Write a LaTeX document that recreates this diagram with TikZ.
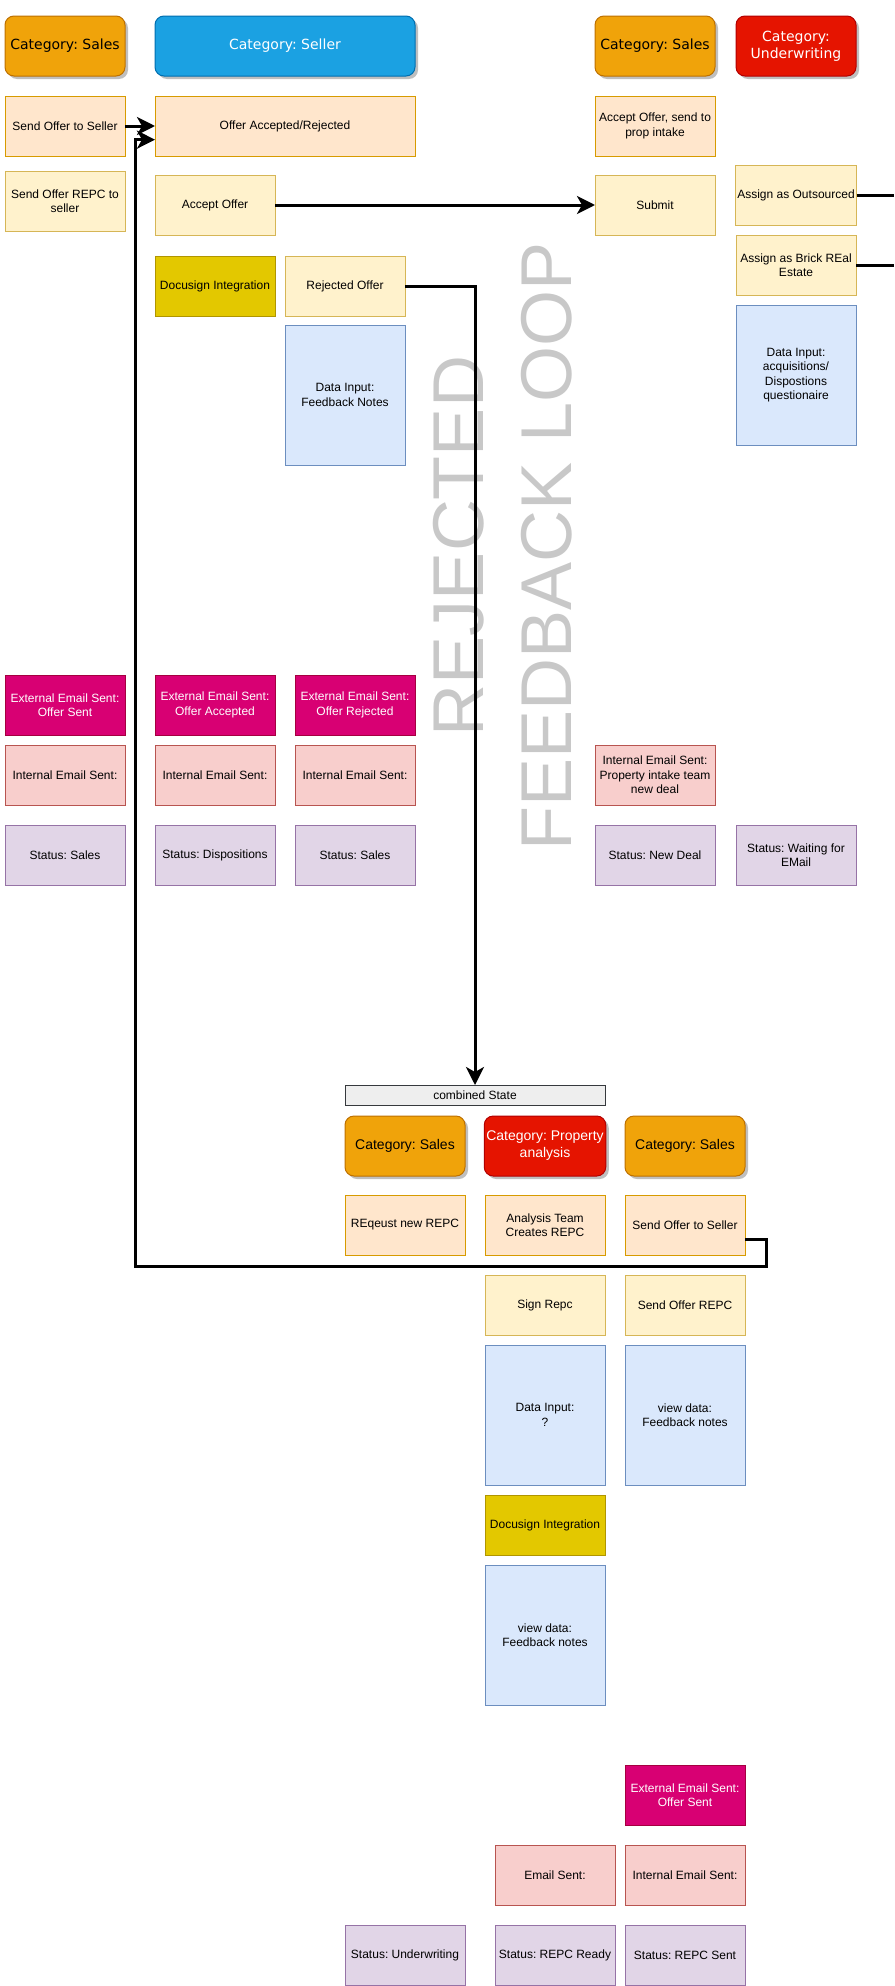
\documentclass[tikz,border=0pt]{standalone}
\usepackage{fontspec}
\setmainfont{Liberation Sans}
\newfontfamily\catfont{DejaVu Sans}
\usetikzlibrary{arrows.meta,shadows}
\frenchspacing

\definecolor{orangefill}{HTML}{F0A30A}
\definecolor{orangeline}{HTML}{BD7000}
\definecolor{bluefill}{HTML}{1BA1E2}
\definecolor{blueline}{HTML}{006EAF}
\definecolor{redfill}{HTML}{E51400}
\definecolor{redline}{HTML}{B20000}
\definecolor{peachfill}{HTML}{FFE6CC}
\definecolor{peachline}{HTML}{D79B00}
\definecolor{palefill}{HTML}{FFF2CC}
\definecolor{paleline}{HTML}{D6B656}
\definecolor{docufill}{HTML}{E3C800}
\definecolor{doculine}{HTML}{B09500}
\definecolor{datafill}{HTML}{DAE8FC}
\definecolor{dataline}{HTML}{6C8EBF}
\definecolor{extfill}{HTML}{D80073}
\definecolor{extline}{HTML}{A50040}
\definecolor{intfill}{HTML}{F8CECC}
\definecolor{intline}{HTML}{B85450}
\definecolor{statfill}{HTML}{E1D5E7}
\definecolor{statline}{HTML}{9673A6}
\definecolor{greyfill}{HTML}{EEEEEE}
\definecolor{greyline}{HTML}{36393D}
\definecolor{loopgrey}{HTML}{C8C8C8}

\tikzset{
    box/.style={draw, line width=1pt, minimum width=120pt, minimum height=60pt,
        inner sep=2pt, outer sep=0pt, align=center, font=\fontsize{12}{14.5}\selectfont},
    tall/.style={minimum height=140pt},
    wide/.style={minimum width=260pt},
    cat/.style={box, rounded corners=9pt, font=\catfont\fontsize{14}{17}\selectfont,
        drop shadow={shadow xshift=3pt, shadow yshift=-3pt, fill=black, opacity=0.25}},
    catlow/.style={cat, font=\fontsize{14}{17}\selectfont},
    catorange/.style={fill=orangefill, draw=orangeline, text=black},
    catblue/.style={fill=bluefill, draw=blueline, text=white},
    catred/.style={fill=redfill, draw=redline, text=white},
    peach/.style={box, fill=peachfill, draw=peachline},
    pale/.style={box, fill=palefill, draw=paleline},
    docu/.style={box, fill=docufill, draw=doculine},
    datain/.style={box, tall, fill=datafill, draw=dataline},
    extmail/.style={box, fill=extfill, draw=extline, text=white},
    intmail/.style={box, fill=intfill, draw=intline},
    status/.style={box, fill=statfill, draw=statline},
    combo/.style={box, wide, minimum height=20pt, fill=greyfill, draw=greyline},
    flow/.style={line width=3pt, -{Stealth[length=18pt, width=18pt, inset=5pt]}},
    link/.style={line width=3pt}
}

\begin{document}
\begin{tikzpicture}[x=1pt, y=-1pt]
    \useasboundingbox (0,0) rectangle (894,1986);

    \node[text=loopgrey, rotate=90, align=center, font=\fontsize{72}{88}\selectfont] (loop) at (503,546) {REJECTED\\FEEDBACK LOOP};

    \node[cat, catorange] (hsales) at (65,46) {Category: Sales};
    \node[cat, catblue, wide] (hseller) at (285,46) {Category: Seller};
    \node[cat, catorange] (hsales2) at (655,46) {Category: Sales};
    \node[cat, catred] (hunder) at (796,46) {Category:\\Underwriting};

    \node[peach] (sendseller) at (65,126) {Send Offer to Seller};
    \node[peach, wide] (offerar) at (285,126) {Offer Accepted/Rejected};
    \node[peach] (acceptprop) at (655,126) {Accept Offer, send to\\prop intake};
    \node[pale] (sendrepc) at (65,201) {Send Offer REPC to\\seller};
    \node[pale] (acceptoffer) at (215,205) {Accept Offer};
    \node[pale] (submit) at (655,205) {Submit};
    \node[pale] (outsourced) at (796,195) {Assign as Outsourced};
    \node[pale] (brick) at (796,265) {Assign as Brick REal\\Estate};
    \node[docu] (docusign) at (215,286) {Docusign Integration};
    \node[pale] (rejected) at (345,286) {Rejected Offer};
    \node[datain] (feedback) at (345,395) {Data Input:\\Feedback Notes};
    \node[datain] (acqinput) at (796,375) {Data Input:\\acquisitions/\\Dispostions\\questionaire};

    \node[extmail] (extsent) at (65,705) {External Email Sent:\\Offer Sent};
    \node[extmail] (extaccepted) at (215,705) {External Email Sent:\\Offer Accepted};
    \node[extmail] (extrejected) at (355,705) {External Email Sent:\\Offer Rejected};
    \node[intmail] (int1) at (65,775) {Internal Email Sent:};
    \node[intmail] (int2) at (215,775) {Internal Email Sent:};
    \node[intmail] (int3) at (355,775) {Internal Email Sent:};
    \node[intmail] (intdeal) at (655,775) {Internal Email Sent:\\Property intake team\\new deal};
    \node[status] (stsales) at (65,855) {Status: Sales};
    \node[status] (stdisp) at (215,855) {Status: Dispositions};
    \node[status] (stsales2) at (355,855) {Status: Sales};
    \node[status] (stnew) at (655,855) {Status: New Deal};
    \node[status] (stwait) at (796,855) {Status: Waiting for\\EMail};

    \node[combo] (combined) at (475,1095) {combined State};
    \node[catlow, catorange] (bsales) at (405,1146) {Category: Sales};
    \node[catlow, catred] (bprop) at (545,1146) {Category: Property\\analysis};
    \node[catlow, catorange] (bsales2) at (685,1146) {Category: Sales};
    \node[peach] (reqrepc) at (405,1225) {REqeust new REPC};
    \node[peach] (analysis) at (545,1225) {Analysis Team\\Creates REPC};
    \node[peach] (sendb) at (685,1225) {Send Offer to Seller};
    \node[pale] (signrepc) at (545,1305) {Sign Repc};
    \node[pale] (sendofferrepc) at (685,1305) {Send Offer REPC};
    \node[datain] (inputq) at (545,1415) {Data Input:\\?};
    \node[datain] (viewfb) at (685,1415) {view data:\\Feedback notes};
    \node[docu] (docusign2) at (545,1525) {Docusign Integration};
    \node[datain] (viewfb2) at (545,1635) {view data:\\Feedback notes};
    \node[extmail] (extsent2) at (685,1795) {External Email Sent:\\Offer Sent};
    \node[intmail] (emailsent) at (555,1875) {Email Sent:};
    \node[intmail] (int5) at (685,1875) {Internal Email Sent:};
    \node[status] (stunder) at (405,1955) {Status: Underwriting};
    \node[status] (stready) at (555,1955) {Status: REPC Ready};
    \node[status] (stsent) at (685,1955) {Status: REPC Sent};

    \coordinate (outend) at (894,195);
    \coordinate (brickend) at (894,265);
    \coordinate (loopr) at (766,1266);
    \coordinate (loopl) at (135,1266);

    \path[flow] (sendseller) edge (offerar);
    \path[flow] (acceptoffer) edge (submit);
    \draw[flow] (rejected) -| (combined);
    \draw[flow] (sendb.-14) -| (loopr) -- (loopl) |- (offerar.186.6);
    \draw[link] (outsourced) -- (outend);
    \draw[link] (brick) -- (brickend);
\end{tikzpicture}
\end{document}
